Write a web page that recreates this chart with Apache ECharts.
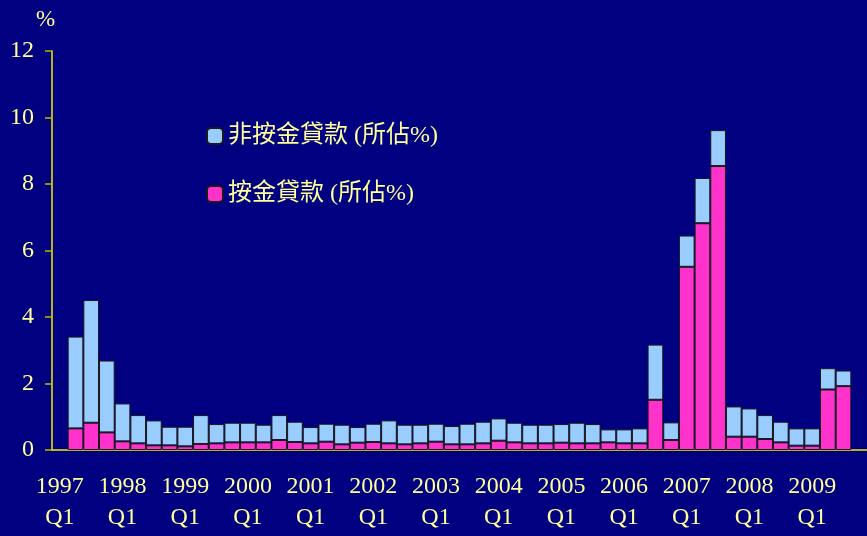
<!DOCTYPE html>
<html>
<head>
<meta charset="utf-8">
<script src="https://cdn.jsdelivr.net/npm/echarts@6/dist/echarts.min.js"></script>
<style>
html,body{margin:0;padding:0;background:#000080;}
#chart{width:867px;height:536px;}
</style>
</head>
<body>
<div id="chart"></div>
<script>
var years = ['1997','1998','1999','2000','2001','2002','2003','2004','2005','2006','2007','2008','2009'];
var quarters = ['Q1','Q2','Q3','Q4'];
var yTicks = [0, 2, 4, 6, 8, 10, 12];
var seriesNames = ['非按金貸款 (所佔%)', '按金貸款 (所佔%)'];

// Mortgage loans share (%), quarterly 1997 Q1 - 2009 Q4
var mortgage = [null, 0.65, 0.82, 0.53, 0.26, 0.20, 0.14, 0.14, 0.11, 0.18, 0.20, 0.23, 0.23, 0.23, 0.30, 0.24,
  0.20, 0.25, 0.17, 0.22, 0.24, 0.20, 0.17, 0.20, 0.25, 0.17, 0.17, 0.20, 0.28, 0.23, 0.20, 0.20,
  0.22, 0.20, 0.20, 0.23, 0.20, 0.20, 1.51, 0.30, 5.51, 6.82, 8.54, 0.40, 0.40, 0.33, 0.23, 0.13,
  0.13, 1.82, 1.92, null];
// Non-mortgage loans share (%)
var nonMortgage = [null, 2.76, 3.69, 2.16, 1.14, 0.85, 0.75, 0.56, 0.59, 0.87, 0.58, 0.59, 0.59, 0.53, 0.75, 0.61,
  0.49, 0.54, 0.59, 0.47, 0.55, 0.69, 0.59, 0.56, 0.54, 0.55, 0.62, 0.65, 0.67, 0.59, 0.56, 0.56,
  0.56, 0.62, 0.58, 0.39, 0.42, 0.45, 1.66, 0.53, 0.94, 1.36, 1.08, 0.91, 0.85, 0.72, 0.62, 0.52,
  0.52, 0.64, 0.47, null];

var categories = [];
years.forEach(function (y) { quarters.forEach(function (q) { categories.push(y + '\n' + q); }); });

var textColor = '#FFFF99';
var axisColor = '#F0F000';
var serif = '"Liberation Serif", "Times New Roman", serif';
var cjk = '"Liberation Serif", "Noto Sans CJK TC", serif';

var chart = echarts.init(document.getElementById('chart'));
chart.setOption({
  backgroundColor: '#000080',
  animation: false,
  graphic: [{
    type: 'text', left: 36, top: 8,
    style: { text: '%', fill: textColor, font: '23px ' + serif }
  }],
  legend: {
    data: seriesNames,
    orient: 'vertical',
    left: 201, top: 119,
    itemWidth: 16, itemHeight: 16,
    itemGap: 34,
    textStyle: { color: textColor, fontSize: 24, fontFamily: cjk, padding: [0, 0, 0, 0] }
  },
  grid: { left: 52, top: 51, height: 399, width: 818.5 },
  xAxis: {
    type: 'category',
    data: categories,
    boundaryGap: true,
    axisLine: { lineStyle: { color: axisColor, width: 1.5 } },
    axisTick: { interval: 3, length: 8, lineStyle: { color: '#B8B800', width: 1.5 } },
    axisLabel: {
      interval: 3, color: textColor, fontSize: 24, fontFamily: serif,
      lineHeight: 31, margin: 21
    },
    splitLine: { show: false }
  },
  yAxis: {
    type: 'value',
    min: yTicks[0], max: yTicks[yTicks.length - 1], interval: 2,
    axisLine: { show: true, lineStyle: { color: axisColor, width: 1.5 } },
    axisTick: { show: true, length: 7, lineStyle: { color: '#B8B800', width: 1.5 } },
    axisLabel: { color: textColor, fontSize: 24, fontFamily: serif, margin: 18 },
    splitLine: { show: false }
  },
  series: [
    {
      name: seriesNames[1], type: 'bar', stack: 'all', data: mortgage,
      barCategoryGap: '0%',
      itemStyle: { color: '#FF33CC', borderColor: '#1a1a1a', borderWidth: 1 }
    },
    {
      name: seriesNames[0], type: 'bar', stack: 'all', data: nonMortgage,
      barCategoryGap: '0%',
      itemStyle: { color: '#99CCFF', borderColor: '#1a1a1a', borderWidth: 1 }
    }
  ]
});
</script>
</body>
</html>
